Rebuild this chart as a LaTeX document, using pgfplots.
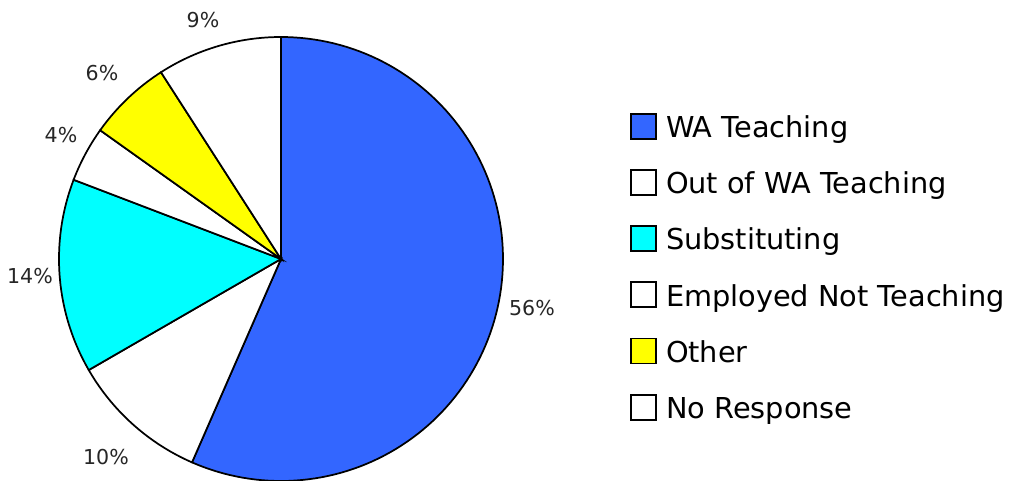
\documentclass[border=0pt]{standalone}
\usepackage{pgfplots}
\pgfplotsset{compat=1.18}
\usepackage{fontspec}
\setmainfont{DejaVu Sans}
\definecolor{wablue}{HTML}{3366FF}
\definecolor{subcyan}{HTML}{00FFFF}
\definecolor{othyellow}{HTML}{FFFF00}
\begin{document}
\begin{tikzpicture}
\useasboundingbox (0,0) rectangle (759.75pt,360pt);
\begin{axis}[
  at={(0,0)}, anchor=origin,
  x=0.75pt, y=0.75pt,
  xmin=0, xmax=1013, ymin=0, ymax=480,
  hide axis, clip=false,
  samples=120,
  every axis plot/.append style={draw=black, line width=1.3pt},
  legend image code/.code={\draw[#1] (0pt,-8.25pt) rectangle (18.75pt,10.5pt); \path (23.5pt,0pt);},
  legend style={at={(axis cs:630,367.5)}, anchor=north west, draw=none, fill=none,
    inner sep=0pt, font=\fontsize{21.6pt}{25pt}\selectfont,
    row sep=20.05pt, legend cell align=left},
]
% slice values (percent, as labelled): 56, 10, 14, 4, 6, 9  (total 99)
\addplot[fill=wablue, domain=90-360*56/99:90] ({281+222*cos(x)},{221+222*sin(x)}) -- (281,221) -- cycle;
\addlegendentry{WA Teaching}
\addplot[fill=white, domain=90-360*66/99:90-360*56/99] ({281+222*cos(x)},{221+222*sin(x)}) -- (281,221) -- cycle;
\addlegendentry{Out of WA Teaching}
\addplot[fill=subcyan, domain=90-360*80/99:90-360*66/99] ({281+222*cos(x)},{221+222*sin(x)}) -- (281,221) -- cycle;
\addlegendentry{Substituting}
\addplot[fill=white, domain=90-360*84/99:90-360*80/99] ({281+222*cos(x)},{221+222*sin(x)}) -- (281,221) -- cycle;
\addlegendentry{Employed Not Teaching}
\addplot[fill=othyellow, domain=90-360*90/99:90-360*84/99] ({281+222*cos(x)},{221+222*sin(x)}) -- (281,221) -- cycle;
\addlegendentry{Other}
\addplot[fill=white, domain=90-360*99/99:90-360*90/99] ({281+222*cos(x)},{221+222*sin(x)}) -- (281,221) -- cycle;
\addlegendentry{No Response}
\begin{scope}[every node/.style={font=\fontsize{15.4pt}{18pt}\selectfont, inner sep=0pt, text=black!85}]
\node at (axis cs:532,172) {56\%};
\node at (axis cs:106,23) {10\%};
\node at (axis cs:30,204) {14\%};
\node at (axis cs:61,345) {4\%};
\node at (axis cs:102,407) {6\%};
\node at (axis cs:203,460) {9\%};
\end{scope}
\end{axis}
\end{tikzpicture}
\end{document}
